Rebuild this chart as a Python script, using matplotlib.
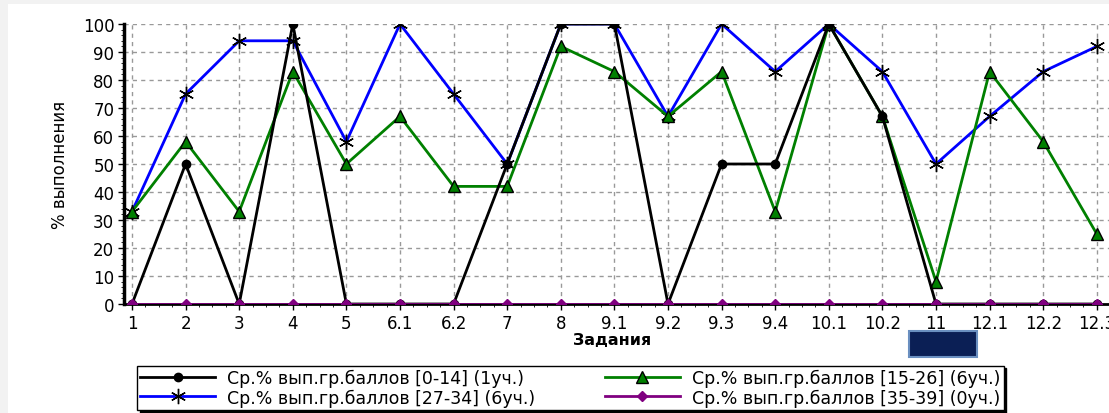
import numpy as np
import matplotlib
matplotlib.use('Agg')
from matplotlib import pyplot as plt
from matplotlib.ticker import MultipleLocator
from matplotlib.patches import Rectangle

plt.rcParams['font.family'] = ['DejaVu Sans']

tasks = ['1', '2', '3', '4', '5', '6.1', '6.2', '7', '8', '9.1', '9.2', '9.3', '9.4',
         '10.1', '10.2', '11', '12.1', '12.2', '12.3']
grp_0_14 = [0, 50, 0, 100, 0, 0, 0, 50, 100, 100, 0, 50, 50, 100, 67, 0, 0, 0, 0]
grp_15_26 = [33, 58, 33, 83, 50, 67, 42, 42, 92, 83, 67, 83, 33, 100, 67, 8, 83, 58, 25]
grp_27_34 = [33, 75, 94, 94, 58, 100, 75, 50, 100, 100, 67, 100, 83, 100, 83, 50, 67, 83, 92]
grp_35_39 = [0] * 19
labels = ['Ср.% вып.гр.баллов [0-14] (1уч.)', 'Ср.% вып.гр.баллов [15-26] (6уч.)',
          'Ср.% вып.гр.баллов [27-34] (6уч.)', 'Ср.% вып.гр.баллов [35-39] (0уч.)']

W, H = 1109, 414
fig = plt.figure(figsize=(W / 100, H / 100), dpi=100)
fig.patch.set_facecolor('#f2f2f2')
fig.patches.append(Rectangle((8 / W, 0), 1, 1 - 5 / H, transform=fig.transFigure,
                             facecolor='white', edgecolor='none', zorder=-10))

ax = fig.add_axes([124 / W, 1 - 305 / H, (W - 124) / W, 280 / H])
x = np.arange(len(tasks))
asterisk = (6, 2, 0)
l1, = ax.plot(x, grp_0_14, color='black', lw=2, marker='o', ms=6, mfc='black', mec='black', zorder=4)
l2, = ax.plot(x, grp_15_26, color='green', lw=2, marker='^', ms=8, mfc='green', mec='black', zorder=3)
l3, = ax.plot(x, grp_27_34, color='blue', lw=2, marker=asterisk, ms=11, mec='black', mew=1, zorder=2)
l4, = ax.plot(x, grp_35_39, color='purple', lw=2, marker='D', ms=5, mfc='purple', mec='purple', zorder=5)

ax.set_xlim(-8 / 53.6, (W - 124) / 53.6 - 8 / 53.6)
ax.set_ylim(0, 100)
ax.set_xticks(x)
ax.set_xticklabels(tasks)
ax.set_yticks(np.arange(0, 101, 10))
ax.xaxis.set_minor_locator(MultipleLocator(0.25))
ax.yaxis.set_minor_locator(MultipleLocator(2))
ax.tick_params(labelsize=12, length=4, width=1, pad=3)
ax.tick_params(which='minor', length=2)
ax.grid(True, which='major', color='#999999', ls=(0, (3, 3)), lw=1)
ax.set_axisbelow(True)
for s in ['top', 'right']:
    ax.spines[s].set_visible(False)
ax.spines['left'].set_linewidth(2.5)
ax.spines['bottom'].set_linewidth(2)
ax.set_ylabel('% выполнения', fontsize=12, labelpad=10)
fig.text(612 / W, 1 - 341 / H, 'Задания', ha='center', va='center', fontsize=11.5, fontweight='bold')

fig.patches.append(Rectangle((909 / W, 1 - 358 / H), 68 / W, 26 / H, transform=fig.transFigure,
                             facecolor='#0b1f55', edgecolor='#6a8fc0', lw=1.5))

# row order of the reference: [0-14], [15-26] / [27-34], [35-39]
leg = fig.legend([l1, l3, l2, l4], [labels[0], labels[2], labels[1], labels[3]], ncol=2,
                 loc='lower left', bbox_to_anchor=(137 / W, 1 - 411 / H),
                 fontsize=12.5, frameon=True, fancybox=False,
                 shadow={'color': 'black', 'alpha': 1, 'ox': 2, 'oy': -2},
                 edgecolor='black', handlelength=4.3, borderpad=0.2, labelspacing=0.05,
                 columnspacing=4.0, borderaxespad=0, handletextpad=0.7)
leg.get_frame().set_linewidth(1)

fig.savefig('out.png', dpi=100)
